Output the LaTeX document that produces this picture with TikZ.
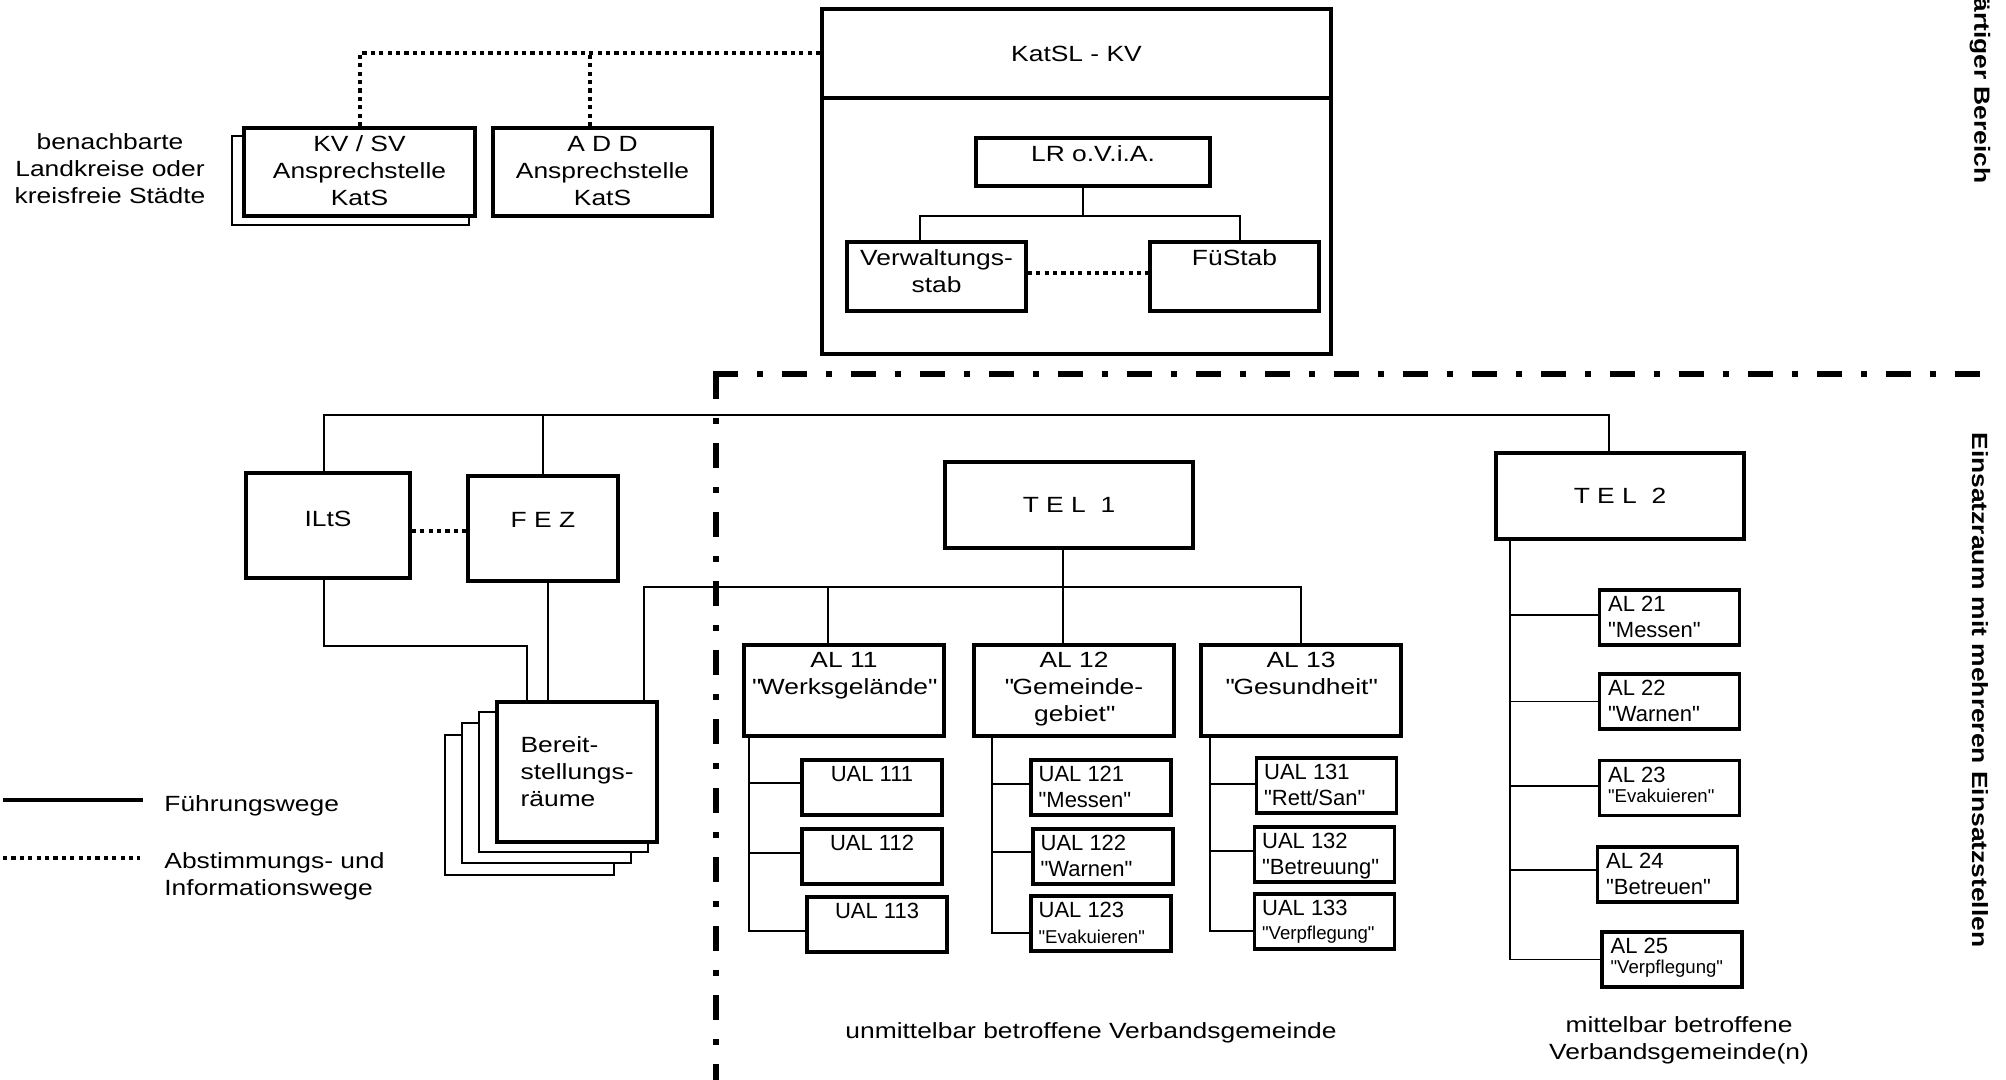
\documentclass[tikz,border=0pt]{standalone}
\usepackage{fontspec}
\setmainfont{Liberation Sans}[FakeStretch=1.2]
\newfontfamily\narrowfont{Liberation Sans}
\usepackage{tikz}
\usetikzlibrary{positioning}
\usetikzlibrary{calc}
\tikzstyle{orgbox}=[rectangle,draw=black,line width=1.8pt,fill=white,inner sep=0pt]
\tikzstyle{backbox}=[rectangle,draw=black,line width=0.8pt,fill=white,inner sep=0pt]
\tikzstyle{boxtext}=[inner sep=0pt,align=center]
\tikzstyle{lefttext}=[inner sep=0pt,align=left]
\tikzstyle{narrowtext}=[inner sep=0pt,align=left,font=\narrowfont\fontsize{11}{12.75}\selectfont]
\tikzstyle{leadline}=[draw,line width=0.8pt]
\tikzstyle{infoline}=[draw,line width=2pt,dash pattern=on 2.1pt off 2.1pt]
\tikzstyle{zoneline}=[draw,line width=2.8pt,dash pattern=on 12.5pt off 9.5pt on 3pt off 9.5pt]
\tikzstyle{zonelabel}=[inner sep=0pt,font=\bfseries\fontsize{11}{13}\selectfont]
\tikzset{ualbox/.style={orgbox,minimum width=70pt,minimum height=27.5pt}}
\newcommand{\smalltag}[1]{{\narrowfont\fontsize{9.3}{11}\selectfont #1}}
\newcommand{\qmark}{\textquotedbl}

\begin{document}
\begin{tikzpicture}[x=0.5pt,y=-0.5pt,font=\fontsize{11}{13.5}\selectfont]
  \useasboundingbox (0,0) rectangle (2006,1080);

  % border of the areas
  \coordinate (zonecorner) at (716,374);
  \draw[zoneline] ([xshift=-1.4pt]zonecorner) -- (1990,374);
  \draw[zoneline] (zonecorner) -- (716,1080);
  \node[zonelabel,rotate=-90,anchor=west] (zonetop) at (1980,-3) {ärtiger Bereich};
  \node[zonelabel,rotate=-90] (zonebottom) at (1980,690) {Einsatzraum mit mehreren Einsatzstellen};

  % KatSL
  \node[orgbox,minimum width=254.5pt,minimum height=128pt] (katslbody) at (1076.5,226) {};
  \node[orgbox,minimum width=254.5pt,minimum height=44.5pt] (katsl) at (1076.5,53.5) {KatSL - KV};

  \foreach \x/\y/\w/\h/\name/\txt in {1093/162/117/24/lr/{LR o.V.i.A.}, 936.5/276.5/89.5/34.5/verw/{Verwaltungs-\\stab}, 1234.5/276.5/84.5/34.5/fuestab/{FüStab}}
  {
     \node[orgbox,minimum width=\w*1pt,minimum height=\h*1pt] (\name) at (\x,\y) {};
     \node[boxtext,below=4.5pt of \name.north] (t\name) {\txt};
  }

  \coordinate (lrjoint) at (1083,216);
  \coordinate (verwdrop) at ([xshift=-8.25pt]verw.north);
  \coordinate (fuedrop) at ([xshift=2.75pt]fuestab.north);
  \draw[leadline] (lrjoint |- lr.south) -- (lrjoint);
  \draw[leadline] (verwdrop) |- (lrjoint) -| (fuedrop);
  \coordinate (verwdot) at ([yshift=1.75pt]verw.east);
  \draw[infoline] (verwdot) -- (verwdot -| fuestab.west);

  % neighbours and ADD
  \node[backbox,minimum width=118.5pt,minimum height=44.5pt] (kvsvback) at (350.5,180.5) {};
  \node[orgbox,minimum width=115.5pt,minimum height=44pt] (kvsv) at (359.5,172) {};
  \node[boxtext,below=4.5pt of kvsv.north] (tkvsv) {KV / SV\\Ansprechstelle\\KatS};
  \node[orgbox,minimum width=109.5pt,minimum height=44pt] (add) at (602.5,172) {};
  \node[boxtext,below=5pt of add.north] (tadd) {A D D\\Ansprechstelle\\KatS};
  \node[boxtext] (nachbarn) at (110,169) {benachbarte\\Landkreise oder\\kreisfreie Städte};

  \coordinate (adddrop) at ([xshift=-6.25pt]add.north);
  \draw[infoline] (kvsv.north) |- (katsl.west);
  \draw[infoline] (adddrop) -- (adddrop |- katsl.west);

  % ILtS, FEZ, Bereitstellungsraeume
  \node[orgbox,minimum width=82pt,minimum height=52.5pt] (ilts) at (328,525.5) {};
  \node[boxtext] (tilts) at ([yshift=3.5pt]ilts.center) {ILtS};
  \node[orgbox,minimum width=75pt,minimum height=52.5pt] (fez) at (543,528.5) {};
  \node[boxtext] (tfez) at ([yshift=4.25pt]fez.center) {F E Z};

  \foreach \x/\y/\name in {529.5/805/bereitd, 546.5/793/bereitc, 563.5/782/bereitb}
     \node[backbox,minimum width=84.5pt,minimum height=70pt] (\name) at (\x,\y) {};
  \node[orgbox,minimum width=80pt,minimum height=70pt] (bereit) at (577,772) {};
  \node[lefttext,right=12.5pt of bereit.west] (tbereit) {Bereit-\\stellungs-\\räume};

  % TEL
  \node[orgbox,minimum width=124pt,minimum height=43pt] (tel1) at (1069,505) {T E L\ \ 1};
  \node[orgbox,minimum width=124pt,minimum height=43pt] (tel2) at (1620,496) {T E L\ \ 2};

  \coordinate (mainbar) at (1000,415);
  \coordinate (tel2drop) at ([xshift=-5.5pt]tel2.north);
  \draw[leadline] ([xshift=-2pt]ilts.north) |- (mainbar) -| (tel2drop);
  \draw[leadline] (fez.north) -- (fez.north |- mainbar);
  \coordinate (iltsdot) at ([yshift=-2.75pt]ilts.east);
  \draw[infoline] (iltsdot) -- (iltsdot -| fez.west);

  \coordinate (iltsjog) at (527,646);
  \coordinate (fezdrop) at ([xshift=2.5pt]fez.south);
  \draw[leadline] ([xshift=-2pt]ilts.south) |- (iltsjog) -- (iltsjog |- bereit.north);
  \draw[leadline] (fezdrop) -- (fezdrop |- bereit.north);

  % AL 11 - AL 13
  \foreach \x/\name/\txt in {844/al11/{AL 11\\\qmark Werksgelände\qmark}, 1074/al12/{AL 12\\\qmark Gemeinde-\\gebiet\qmark}, 1301/al13/{AL 13\\\qmark Gesundheit\qmark}}
  {
     \node[orgbox,minimum width=100pt,minimum height=45.5pt] (\name) at (\x,690.5) {};
     \node[boxtext,below=4.5pt of \name.north] (t\name) {\txt};
  }

  \coordinate (telbar) at (1000,587);
  \coordinate (bereitup) at ([xshift=33.5pt]bereit.north);
  \coordinate (tel1drop) at ([xshift=-3pt]tel1.south);
  \coordinate (al11drop) at ([xshift=-8pt]al11.north);
  \draw[leadline] (bereitup) |- (telbar) -| (al13.north);
  \draw[leadline] (tel1drop) -- (tel1drop |- al12.north);
  \draw[leadline] (al11drop) -- (al11drop |- telbar);

  % UAL
  \foreach \x/\y/\name/\txt in {872/787.5/ual111/{UAL 111}, 872/856.5/ual112/{UAL 112}, 877/924.5/ual113/{UAL 113}}
  {
     \node[ualbox] (\name) at (\x,\y) {};
     \node[narrowtext,align=center,below=4pt of \name.north] (t\name) {\txt};
  }
  \foreach \x/\y/\name/\txt in {1101/787.5/ual121/{UAL 121\\\qmark Messen\qmark}, 1103/856.5/ual122/{UAL 122\\\qmark Warnen\qmark}, 1101/923.5/ual123/{UAL 123\\\smalltag{\qmark Evakuieren\qmark}},
                                1326.5/785.5/ual131/{UAL 131\\\qmark Rett/San\qmark}, 1324.5/854.5/ual132/{UAL 132\\\qmark Betreuung\qmark}, 1324.5/921.5/ual133/{UAL 133\\[-1pt]\smalltag{\qmark Verpflegung\qmark}}}
  {
     \node[ualbox] (\name) at (\x,\y) {};
     \node[narrowtext,anchor=north west] (t\name) at ([xshift=4.5pt,yshift=-4pt]\name.north west) {\txt};
  }
  \foreach \al/\ual/\dx/\dy in {al11/ual111/3.5/2.25, al11/ual112/3.5/1.75, al11/ual113/3.5/-3.25,
                                al12/ual121/10/1.75, al12/ual122/10/2.25, al12/ual123/10/-4.75,
                                al13/ual131/5.5/0.75, al13/ual132/5.5/1.75, al13/ual133/5.5/-4.75}
     \draw[leadline] ([xshift=\dx*1pt]\al.south west) |- ([yshift=\dy*1pt]\ual.west);

  % AL 21 - AL 25
  \foreach \x/\y/\name/\txt in {1669.5/617.5/al21/{AL 21\\\qmark Messen\qmark}, 1669.5/701.5/al22/{AL 22\\\qmark Warnen\qmark}, 1669.5/788/al23/{AL 23\\[-2.5pt]\smalltag{\qmark Evakuieren\qmark}},
                                1667.5/874.5/al24/{AL 24\\\qmark Betreuen\qmark}, 1672/959.5/al25/{AL 25\\[-3pt]\smalltag{\qmark Verpflegung\qmark}}}
  {
     \node[ualbox] (\name) at (\x,\y) {};
     \node[narrowtext,anchor=north west] (t\name) at ([xshift=5pt,yshift=-4pt]\name.north west) {\txt};
  }
  \foreach \al/\dy in {al21/1.25, al22/0, al23/1, al24/2.25, al25/0}
     \draw[leadline] ([xshift=8pt]tel2.south west) |- ([yshift=\dy*1pt]\al.west);

  % captions
  \node[boxtext] (unmittelbar) at (1091,1033) {unmittelbar betroffene Verbandsgemeinde};
  \node[boxtext] (mittelbar) at (1679,1040) {mittelbar betroffene\\Verbandsgemeinde(n)};

  % legend
  \coordinate (legA) at (3,800);
  \coordinate (legB) at (143,800);
  \coordinate (legC) at (3,858);
  \coordinate (legD) at (140,858);
  \draw[leadline,line width=1.7pt] (legA) -- (legB);
  \draw[infoline] (legC) -- (legD);
  \node[lefttext,anchor=base west] (fuehrung) at (164,811) {Führungswege};
  \node[lefttext,anchor=north west] (abstimmung) at (164,852) {Abstimmungs- und\\Informationswege};
\end{tikzpicture}
\end{document}
